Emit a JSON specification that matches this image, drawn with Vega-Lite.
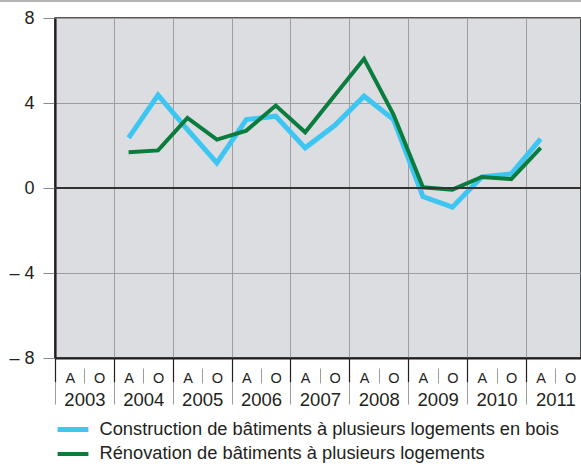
{
  "$schema": "https://vega.github.io/schema/vega-lite/v6.json",
  "width": 526,
  "height": 340,
  "autosize": {"type": "none"},
  "padding": {"left": 55, "top": 18, "right": 0, "bottom": 106},
  "background": "white",
  "config": {
    "font": "Liberation Sans",
    "view": {"fill": "#dcdde0", "stroke": "#231f20", "strokeWidth": 1.5},
    "axis": {"labelColor": "#231f20", "labelFont": "Liberation Sans"}
  },
  "datasets": {
    "series": [
      {"periode": 2.5, "serie": "Construction de bâtiments à plusieurs logements en bois", "valeur": 2.36},
      {"periode": 3.5, "serie": "Construction de bâtiments à plusieurs logements en bois", "valeur": 4.37},
      {"periode": 4.5, "serie": "Construction de bâtiments à plusieurs logements en bois", "valeur": 2.75},
      {"periode": 5.5, "serie": "Construction de bâtiments à plusieurs logements en bois", "valeur": 1.18},
      {"periode": 6.5, "serie": "Construction de bâtiments à plusieurs logements en bois", "valeur": 3.22},
      {"periode": 7.5, "serie": "Construction de bâtiments à plusieurs logements en bois", "valeur": 3.38},
      {"periode": 8.5, "serie": "Construction de bâtiments à plusieurs logements en bois", "valeur": 1.89},
      {"periode": 9.5, "serie": "Construction de bâtiments à plusieurs logements en bois", "valeur": 2.94},
      {"periode": 10.5, "serie": "Construction de bâtiments à plusieurs logements en bois", "valeur": 4.32},
      {"periode": 11.5, "serie": "Construction de bâtiments à plusieurs logements en bois", "valeur": 3.22},
      {"periode": 12.5, "serie": "Construction de bâtiments à plusieurs logements en bois", "valeur": -0.4},
      {"periode": 13.5, "serie": "Construction de bâtiments à plusieurs logements en bois", "valeur": -0.9},
      {"periode": 14.5, "serie": "Construction de bâtiments à plusieurs logements en bois", "valeur": 0.52},
      {"periode": 15.5, "serie": "Construction de bâtiments à plusieurs logements en bois", "valeur": 0.67},
      {"periode": 16.5, "serie": "Construction de bâtiments à plusieurs logements en bois", "valeur": 2.31},
      {"periode": 2.5, "serie": "Rénovation de bâtiments à plusieurs logements", "valeur": 1.68},
      {"periode": 3.5, "serie": "Rénovation de bâtiments à plusieurs logements", "valeur": 1.77},
      {"periode": 4.5, "serie": "Rénovation de bâtiments à plusieurs logements", "valeur": 3.3},
      {"periode": 5.5, "serie": "Rénovation de bâtiments à plusieurs logements", "valeur": 2.28},
      {"periode": 6.5, "serie": "Rénovation de bâtiments à plusieurs logements", "valeur": 2.7},
      {"periode": 7.5, "serie": "Rénovation de bâtiments à plusieurs logements", "valeur": 3.88},
      {"periode": 8.5, "serie": "Rénovation de bâtiments à plusieurs logements", "valeur": 2.62},
      {"periode": 9.5, "serie": "Rénovation de bâtiments à plusieurs logements", "valeur": 4.35},
      {"periode": 10.5, "serie": "Rénovation de bâtiments à plusieurs logements", "valeur": 6.08},
      {"periode": 11.5, "serie": "Rénovation de bâtiments à plusieurs logements", "valeur": 3.46},
      {"periode": 12.5, "serie": "Rénovation de bâtiments à plusieurs logements", "valeur": 0.03},
      {"periode": 13.5, "serie": "Rénovation de bâtiments à plusieurs logements", "valeur": -0.08},
      {"periode": 14.5, "serie": "Rénovation de bâtiments à plusieurs logements", "valeur": 0.52},
      {"periode": 15.5, "serie": "Rénovation de bâtiments à plusieurs logements", "valeur": 0.42},
      {"periode": 16.5, "serie": "Rénovation de bâtiments à plusieurs logements", "valeur": 1.89}
    ]
  },
  "data": {"name": "series"},
  "resolve": {"axis": {"x": "independent", "y": "independent"}},
  "layer": [
    {
      "mark": {"type": "line", "strokeJoin": "miter", "strokeCap": "butt"},
      "encoding": {
        "x": {
          "field": "periode", "type": "quantitative",
          "scale": {"domain": [0, 17.87], "nice": false, "zero": false},
          "axis": {
            "orient": "bottom", "title": null, "values": [0, 2, 4, 6, 8, 10, 12, 14, 16],
            "labels": false, "grid": true, "gridColor": "#9d9d9f", "gridWidth": 1,
            "ticks": true, "tickColor": "#231f20", "tickSize": 24, "tickWidth": 1.2,
            "domain": true, "domainColor": "#231f20", "domainWidth": 2
          }
        },
        "y": {
          "field": "valeur", "type": "quantitative",
          "scale": {"domain": [-8, 8], "nice": false, "zero": false},
          "axis": {
            "orient": "left", "title": null, "values": [-8, -4, 0, 4, 8],
            "labelExpr": "datum.value < 0 ? '– ' + abs(datum.value) : '' + datum.value",
            "labelFontSize": 18, "labelPadding": 9,
            "grid": true, "gridColor": "#9d9d9f", "gridWidth": 1,
            "tickColor": "#8a8a8c", "tickSize": 12, "tickWidth": 1,
            "domainColor": "#231f20", "domainWidth": 2.2
          }
        },
        "color": {
          "field": "serie", "type": "nominal",
          "scale": {
            "domain": ["Construction de bâtiments à plusieurs logements en bois", "Rénovation de bâtiments à plusieurs logements"],
            "range": ["#3ec6f2", "#0a7c3e"]
          },
          "legend": {
            "title": null, "orient": "none", "legendX": 4.5, "legendY": 398,
            "direction": "vertical", "symbolType": "M-1.4,0H1.4", "symbolSize": 484,
            "symbolStrokeWidth": 4.5, "labelFontSize": 18.3, "labelColor": "#231f20",
            "labelOffset": 13, "rowPadding": 1, "padding": 0, "labelLimit": 600
          }
        },
        "strokeWidth": {
          "field": "serie", "type": "nominal",
          "scale": {
            "domain": ["Construction de bâtiments à plusieurs logements en bois", "Rénovation de bâtiments à plusieurs logements"],
            "range": [5, 4]
          },
          "legend": null
        }
      }
    },
    {
      "mark": {"type": "rule", "color": "#333333", "strokeWidth": 1.5},
      "encoding": {"y": {"datum": 0, "axis": null}}
    },
    {
      "mark": {"type": "rule", "color": "#b3b3b3", "strokeWidth": 2, "clip": false},
      "encoding": {
        "y": {"datum": 8.82, "axis": null},
        "x": {"datum": -1.9, "axis": null},
        "x2": {"datum": 17.87}
      }
    },
    {
      "mark": {"type": "point", "opacity": 0},
      "encoding": {
        "x": {
          "field": "periode", "type": "quantitative",
          "axis": {
            "orient": "bottom", "title": null, "values": [1, 3, 5, 7, 9, 11, 13, 15, 17],
            "labels": false, "grid": false, "domain": false, "offset": 10,
            "ticks": true, "tickColor": "#9d9d9f", "tickSize": 15, "tickWidth": 1
          }
        }
      }
    },
    {
      "mark": {"type": "point", "opacity": 0},
      "encoding": {
        "x": {
          "field": "periode", "type": "quantitative",
          "axis": {
            "orient": "bottom", "title": null,
            "values": [0.5, 1.5, 2.5, 3.5, 4.5, 5.5, 6.5, 7.5, 8.5, 9.5, 10.5, 11.5, 12.5, 13.5, 14.5, 15.5, 16.5, 17.5],
            "labelExpr": "(datum.value - 0.5) % 2 == 0 ? 'A' : 'O'",
            "labelFontSize": 14.5, "labelPadding": 13, "labelOverlap": false, "labelFlush": false, "labelBound": false,
            "grid": false, "domain": false, "ticks": false
          }
        }
      }
    },
    {
      "mark": {"type": "point", "opacity": 0},
      "encoding": {
        "x": {
          "field": "periode", "type": "quantitative",
          "axis": {
            "orient": "bottom", "title": null, "values": [1, 3, 5, 7, 9, 11, 13, 15, 17],
            "labelExpr": "'' + (2003 + (datum.value - 1) / 2)",
            "labelFontSize": 18.5, "labelPadding": 32, "labelOverlap": false, "labelFlush": false, "labelBound": false,
            "grid": false, "domain": false, "ticks": false
          }
        }
      }
    },
    {
      "mark": {"type": "point", "opacity": 0},
      "encoding": {
        "x": {
          "field": "periode", "type": "quantitative",
          "axis": {
            "orient": "bottom", "title": null, "values": [0, 2, 4, 6, 8, 10, 12, 14, 16],
            "labels": false, "grid": false, "domain": false, "offset": 24,
            "ticks": true, "tickColor": "#9d9d9f", "tickSize": 22, "tickWidth": 1
          }
        }
      }
    }
  ]
}
